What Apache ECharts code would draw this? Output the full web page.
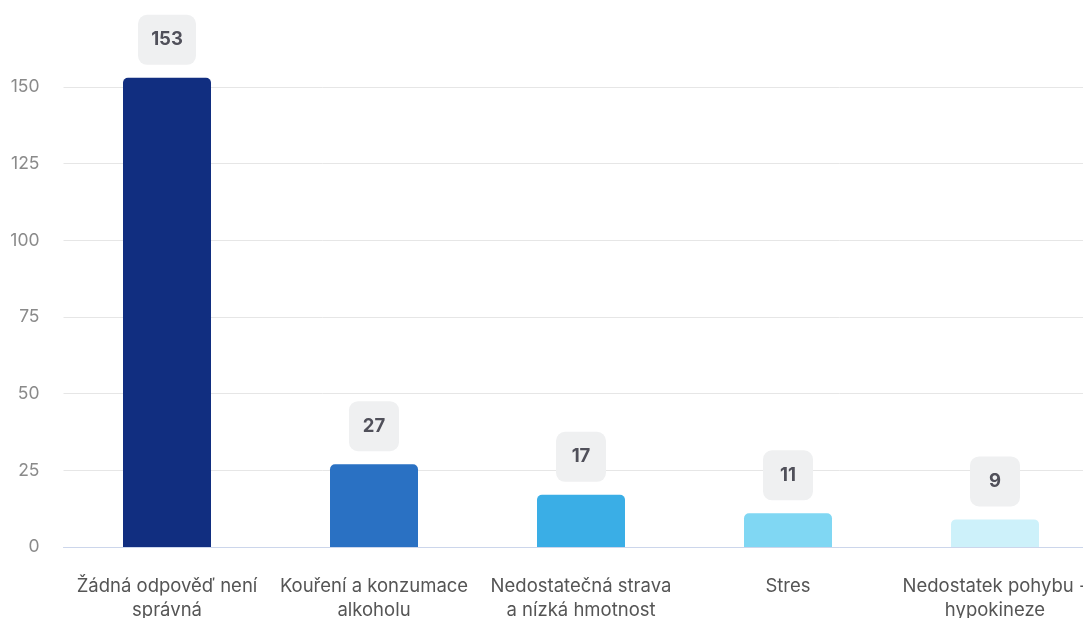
<!DOCTYPE html>
<html>
<head>
<meta charset="utf-8">
<style>
  html, body { margin: 0; padding: 0; background: #ffffff; overflow: hidden; }
  #chart { width: 1110px; height: 618px; }
</style>
<script src="https://cdn.jsdelivr.net/npm/echarts@6/dist/echarts.min.js"></script>
</head>
<body>
<div id="chart"></div>
<script>
// Answers and their counts
const categories = [
  'Žádná odpověď není\nsprávná',
  'Kouření a konzumace\nalkoholu',
  'Nedostatečná strava\na nízká hmotnost',
  'Stres',
  'Nedostatek pohybu -\nhypokineze'
];
const counts = [153, 27, 17, 11, 9];
const barColors = ['#112e80', '#2a71c3', '#3aaee6', '#80d7f3', '#cdf1fa'];
const yTicks = { min: 0, max: 150, interval: 25 };

const chart = echarts.init(document.getElementById('chart'), null, { renderer: 'canvas' });

const data = counts.map((v, i) => ({
  value: v,
  itemStyle: { color: barColors[i] },
  label: { width: String(v).length >= 3 ? 34 : 26 }
}));

chart.setOption({
  animation: false,
  textStyle: { fontFamily: 'Inter, "Noto Sans", sans-serif' },
  grid: {
    left: 63.5, top: 87, width: 1035, height: 460,
    containLabel: false, outerBoundsMode: 'none'
  },
  xAxis: {
    type: 'category',
    data: categories,
    axisLine: { lineStyle: { color: '#ccd6eb', width: 1 } },
    axisTick: { show: false },
    axisLabel: {
      interval: 0,
      margin: 27,
      color: '#555555',
      fontSize: 18.5,
      lineHeight: 24,
      align: 'center'
    }
  },
  yAxis: {
    type: 'value',
    min: yTicks.min,
    max: yTicks.max,
    interval: yTicks.interval,
    axisLine: { show: false },
    axisTick: { show: false },
    axisLabel: { margin: 24, color: '#8a8a8a', fontSize: 17.5 },
    splitLine: { lineStyle: { color: '#e6e6e6', width: 1 } }
  },
  series: [{
    type: 'bar',
    data: data,
    barWidth: 88,
    clip: false,
    itemStyle: { borderRadius: [5, 5, 0, 0] },
    label: {
      show: true,
      position: 'top',
      distance: 13,
      color: '#50505a',
      fontSize: 18.5,
      fontWeight: 'bold',
      align: 'center',
      backgroundColor: '#eff0f1',
      borderRadius: 9,
      padding: [16, 12, 16, 12],
      lineHeight: 18
    }
  }]
});
</script>
</body>
</html>
